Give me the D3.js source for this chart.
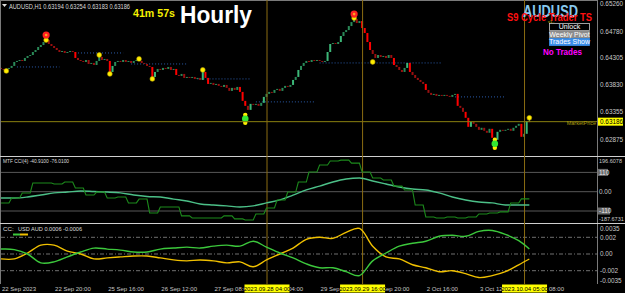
<!DOCTYPE html>
<html>
<head>
<meta charset="utf-8">
<script src="https://cdn.jsdelivr.net/npm/d3@7"></script>
<style>
  body { margin: 0; background: #000; }
  svg { display: block; font-family: "Liberation Sans", Arial, sans-serif; }
</style>
</head>
<body>
<div id="chart"></div>
<script>
var width = 625;
var height = 293;

// hourly closes, AUDUSD H1, 22 Sep 00:00 -> 4 Oct 07:00 (200 bars)
var closes = [
  0.64116,0.64098,0.64116,0.64134,0.64169,0.64239,0.64257,0.64274,0.64257,0.64310,
  0.64345,0.64362,0.64415,0.64450,0.64503,0.64538,0.64591,0.64626,0.64556,0.64521,
  0.64486,0.64450,0.64415,0.64433,0.64398,0.64415,0.64433,0.64415,0.64310,0.64274,
  0.64257,0.64239,0.64274,0.64204,0.64222,0.64186,0.64257,0.64327,0.64274,0.64292,
  0.64257,0.64063,0.64169,0.64239,0.64257,0.64239,0.64274,0.64239,0.64257,0.64222,
  0.64257,0.64274,0.64257,0.64222,0.64204,0.64169,0.64151,0.63975,0.64063,0.64116,
  0.64098,0.64134,0.64116,0.64151,0.64098,0.64116,0.64010,0.63993,0.64028,0.63958,
  0.63975,0.63958,0.63975,0.63940,0.63958,0.63922,0.64063,0.63958,0.63852,0.63870,
  0.63834,0.63852,0.63817,0.63799,0.63834,0.63782,0.63729,0.63782,0.63746,0.63799,
  0.63711,0.63553,0.63465,0.63394,0.63500,0.63482,0.63500,0.63465,0.63518,0.63623,
  0.63676,0.63711,0.63694,0.63746,0.63764,0.63729,0.63782,0.63817,0.63799,0.63834,
  0.63922,0.63975,0.64098,0.64169,0.64222,0.64257,0.64239,0.64274,0.64257,0.64274,
  0.64257,0.64239,0.64257,0.64415,0.64556,0.64574,0.64556,0.64591,0.64697,0.64767,
  0.64802,0.64873,0.64943,0.64996,0.64926,0.64961,0.64838,0.64750,0.64591,0.64450,
  0.64380,0.64310,0.64362,0.64327,0.64345,0.64310,0.64362,0.64310,0.64186,0.64151,
  0.64098,0.64063,0.64134,0.64222,0.64063,0.64010,0.63958,0.63922,0.63887,0.63852,
  0.63746,0.63694,0.63658,0.63676,0.63641,0.63658,0.63641,0.63658,0.63641,0.63623,
  0.63658,0.63676,0.63465,0.63430,0.63359,0.63254,0.63095,0.63183,0.63148,0.63095,
  0.63042,0.63078,0.63025,0.62990,0.63060,0.62902,0.62866,0.63007,0.63042,0.63025,
  0.63042,0.63060,0.63025,0.63078,0.63113,0.63148,0.62919,0.62972,0.63194,0.63186
];
var firstOpen = 0.64134;
var lastOHLC = [0.63194, 0.63254, 0.63183, 0.63186];
var marketPrice = 0.63186;

var priceTicks = ["0.65260", "0.64780", "0.64305", "0.63830", "0.63355", "0.62875"];

var timeTickBars = [0, 20, 40, 60, 80, 100, 120, 140, 160, 180, 200];
var timeTickLabels = ["22 Sep 2023", "22 Sep 20:00", "25 Sep 16:00", "26 Sep 12:00", "27 Sep 08:00",
  "28 Sep 04:00", "29 Sep 00:00", "29 Sep 20:00", "2 Oct 16:00", "3 Oct 12:00", "4 Oct 08:00"];

var vlineBars = [100, 136, 197];
var vlineLabels = ["2023.09.28 04:00", "2023.09.29 16:00", "2023.10.04 05:00"];

// dotted pivot segments: [fromBar, toBar, price]
var levelSegments = [
  [6, 22, 0.64151], [29, 46, 0.64398], [49, 70, 0.64204], [74, 94, 0.63940],
  [96, 118, 0.63535], [120, 166, 0.64222], [171, 190, 0.63623]
];
// yellow swing dots: [bar, price]
var dotSignals = [
  [2, 0.64081], [17, 0.64626], [37, 0.64362], [41, 0.64028], [52, 0.64292],
  [57, 0.63940], [76, 0.64098], [133, 0.65014], [140, 0.64239], [199, 0.63254]
];
var sellSignals = [[17, 0.64714], [133, 0.65084]];
var buySignals = [[92, 0.63236], [186, 0.62796]];

// MTF CCI: one value per H4 block (4 bars)
var cciH4 = [-64, -36, -7, 50, 50, 44, 55, 21, -19, -2,
  -36, -30, -64, -42, -121, -87, -87, -138, -150, -150,
  -150, -138, -155, -161, -127, -93, -47, -2, 55, 112,
  152, 175, 180, 163, 112, 78, 67, 32, 10, -76,
  -144, -150, -144, -150, -144, -127, -121, -115, -64, -40.91];
// slow CCI + currency strength, sampled every 5 bars (last = bar 199)
var cciSlow = [-36, -36, -30, -19, -7, -2, 4, 1, -2, -7,
  -19, -27, -30, -42, -53, -70, -76, -81, -87, -81,
  -64, -47, -19, 10, 32, 55, 72, 78, 61, 44,
  27, 15, 10, -7, -30, -47, -59, -64, -76, -76, -76.01];
var ccUSD = [0.00059, 0.00053, 0, -0.00106, -0.00094, -0.00035, 0.00024, 0.00071, 0.00059, 0.00047,
  0.00024, 0.00024, 0.00059, 0.00071, 0.00082, 0.00071, 0.00094, 0.00106, 0.00094, 0.00153,
  0.00082, 0.00012, -0.00047, -0.00118, -0.00165, -0.00165, -0.00212, -0.00259, -0.00082, 0.00012,
  0.00094, 0.00129, 0.00153, 0.00212, 0.00224, 0.00212, 0.00271, 0.00282, 0.00235, 0.0016, 0.0006];
var ccAUD = [-0.00059, -0.00059, 0.00012, 0.00106, 0.00106, 0.00035, 0, -0.00059, -0.00047, -0.00035,
  -0.00024, -0.00024, -0.00047, -0.00071, -0.00082, -0.00071, -0.00082, -0.00106, -0.00094, -0.00153,
  -0.00071, 0, 0.00071, 0.00176, 0.002, 0.00188, 0.00259, 0.00306, 0.00094, -0.00035,
  -0.00059, -0.00129, -0.00165, -0.00212, -0.002, -0.00235, -0.00282, -0.00259, -0.00212, -0.00129, -0.0006];

var cciTicks = ["196.6078", "110", "0.00", "-110", "-187.6731"];
var ccTicks = ["0.0035", "0.002", "0.00", "-0.002", "-0.0035"];

function drawChart() {
  var plotRight = 597;
  var sampleBars = d3.range(0, 200, 5).concat([199]);

  var svg = d3.select("#chart").append("svg").attr("width", width).attr("height", height);
  svg.append("rect").attr("width", width).attr("height", height).attr("fill", "#000");

  var defs = svg.append("defs");
  defs.append("clipPath").attr("id", "clip-main").append("rect")
    .attr("x", 1).attr("y", 1).attr("width", plotRight - 1).attr("height", 155);

  var x = d3.scaleLinear().domain([0, 199]).range([1, 1 + 199 * 2.655]);
  var y = d3.scaleLinear().domain([0.62875, 0.65260]).range([139.3, 4.1]);
  var yCci = d3.scaleLinear().domain([-110, 110]).range([211, 172.4]);
  var yCc = d3.scaleLinear().domain([-0.002, 0.002]).range([270.7, 237.3]);

  // frame
  svg.append("line").attr("x1", 0).attr("x2", plotRight).attr("y1", 0.5).attr("y2", 0.5).attr("stroke", "#7a7a7a");
  svg.append("line").attr("x1", 0.5).attr("x2", 0.5).attr("y1", 0).attr("y2", 284).attr("stroke", "#7a7a7a");
  svg.append("line").attr("x1", plotRight + 0.5).attr("x2", plotRight + 0.5).attr("y1", 0).attr("y2", 284).attr("stroke", "#7a7a7a");
  [156.5, 223.5].forEach(function (yy) {
    svg.append("line").attr("x1", 0).attr("x2", width).attr("y1", yy).attr("y2", yy)
      .attr("stroke", "#cfcfcf").attr("stroke-width", 1.2);
  });

  // CCI grid
  [110, 0, -110].forEach(function (v) {
    svg.append("line").attr("x1", 1).attr("x2", plotRight).attr("y1", yCci(v)).attr("y2", yCci(v))
      .attr("stroke", "#585858");
  });
  // CC grid
  [0.002, 0, -0.002].forEach(function (v) {
    svg.append("line").attr("x1", 1).attr("x2", plotRight).attr("y1", yCc(v)).attr("y2", yCc(v))
      .attr("stroke", "#707070").attr("stroke-dasharray", "4,2,1,2");
  });

  // pivot level segments
  var main = svg.append("g").attr("clip-path", "url(#clip-main)");
  main.selectAll("line.level").data(levelSegments).enter().append("line")
    .attr("class", "level")
    .attr("x1", function (d) { return x(d[0]); }).attr("x2", function (d) { return x(d[1]); })
    .attr("y1", function (d) { return y(d[2]); }).attr("y2", function (d) { return y(d[2]); })
    .attr("stroke", "#2a5aa8").attr("stroke-dasharray", "1,2");

  // market price line
  svg.append("line").attr("x1", 1).attr("x2", plotRight).attr("y1", y(marketPrice)).attr("y2", y(marketPrice))
    .attr("stroke", "#8a8010");

  // vertical time markers
  svg.selectAll("line.vmark").data(vlineBars).enter().append("line")
    .attr("class", "vmark")
    .attr("x1", function (d) { return x(d) + 0.5; }).attr("x2", function (d) { return x(d) + 0.5; })
    .attr("y1", 0).attr("y2", 284)
    .attr("stroke", "#8b6d12");

  // candles
  var bars = closes.map(function (c, i) {
    var o = i == 0 ? firstOpen : closes[i - 1];
    if (i == closes.length - 1) { o = lastOHLC[0]; }
    return { i: i, o: o, c: c };
  });
  main.append("line")
    .attr("x1", x(199)).attr("x2", x(199))
    .attr("y1", y(lastOHLC[1])).attr("y2", y(lastOHLC[2]))
    .attr("stroke", "#3cb878");
  main.selectAll("rect.candle").data(bars).enter().append("rect")
    .attr("class", "candle")
    .attr("x", function (d) { return x(d.i) - 1; })
    .attr("width", 2)
    .attr("y", function (d) { return y(Math.max(d.o, d.c)); })
    .attr("height", function (d) { return Math.max(1, Math.abs(y(d.o) - y(d.c))); })
    .attr("fill", function (d) {
      var big = Math.abs(d.o - d.c) >= 0.0008;
      if (d.c >= d.o) { return big ? "#3cb878" : "#2a8a58"; }
      return big ? "#ff0000" : "#9a1010";
    });

  // swing dots and signals
  main.selectAll("circle.dot").data(dotSignals).enter().append("circle")
    .attr("class", "dot")
    .attr("cx", function (d) { return x(d[0]); }).attr("cy", function (d) { return y(d[1]); })
    .attr("r", 2.4).attr("fill", "#ffee00").attr("stroke", "#b8a000").attr("stroke-width", 0.6);
  main.selectAll("circle.sell").data(sellSignals).enter().append("circle")
    .attr("class", "sell")
    .attr("cx", function (d) { return x(d[0]); }).attr("cy", function (d) { return y(d[1]); })
    .attr("r", 3.6).attr("fill", "#ff2020");
  main.selectAll("circle.sellc").data(sellSignals).enter().append("circle")
    .attr("class", "sellc")
    .attr("cx", function (d) { return x(d[0]); }).attr("cy", function (d) { return y(d[1]); })
    .attr("r", 1.3).attr("fill", "#ffa020");
  buySignals.forEach(function (d) {
    [-4, 4].forEach(function (off) {
      main.append("circle").attr("cx", x(d[0])).attr("cy", y(d[1]) + off).attr("r", 2.2).attr("fill", "#ffee00");
    });
    main.append("circle").attr("cx", x(d[0])).attr("cy", y(d[1])).attr("r", 3.3).attr("fill", "#33e633");
  });

  // CCI lines
  var cciFast = closes.map(function (c, i) { return [i, cciH4[Math.floor(i / 4)]]; });
  svg.append("path").datum(cciSlow.map(function (v, k) { return [sampleBars[k], v]; }))
    .attr("fill", "none").attr("stroke", "#4cc088").attr("stroke-width", 1.4)
    .attr("d", d3.line().x(function (d) { return x(d[0]); }).y(function (d) { return yCci(d[1]); }).curve(d3.curveMonotoneX));
  svg.append("path").datum(cciFast)
    .attr("fill", "none").attr("stroke", "#1c8a1c").attr("stroke-width", 1.1)
    .attr("d", d3.line().x(function (d) { return x(d[0]); }).y(function (d) { return yCci(d[1]); }));

  // currency strength lines
  var ccLine = d3.line().x(function (d) { return x(d[0]); }).y(function (d) { return yCc(d[1]); }).curve(d3.curveCatmullRom);
  svg.append("path").datum(ccAUD.map(function (v, k) { return [sampleBars[k], v]; }))
    .attr("fill", "none").attr("stroke", "#f0c000").attr("stroke-width", 1.4).attr("d", ccLine);
  svg.append("path").datum(ccUSD.map(function (v, k) { return [sampleBars[k], v]; }))
    .attr("fill", "none").attr("stroke", "#3cc83c").attr("stroke-width", 1.4).attr("d", ccLine);

  // right axis labels
  var axisFont = 6.4;
  var priceAxis = svg.append("g").attr("font-size", axisFont + "px").attr("fill", "#c8c8c8");
  priceAxis.selectAll("text").data(priceTicks).enter().append("text")
    .attr("x", 600).attr("y", function (d) { return y(+d); }).attr("dy", "0.35em")
    .text(function (d) { return d; });
  svg.append("rect").attr("x", 598).attr("y", y(marketPrice) - 4).attr("width", 25).attr("height", 8).attr("fill", "#ffff00");
  svg.append("text").attr("x", 600).attr("y", y(marketPrice)).attr("dy", "0.35em")
    .attr("font-size", axisFont + "px").attr("fill", "#000").text(marketPrice.toFixed(5));
  svg.append("text").attr("x", 596).attr("y", y(marketPrice) + 3.5).attr("text-anchor", "end")
    .attr("font-size", "5.5px").attr("fill", "#a89a10").text("MarketPrice");

  var cciPos = [160.7, yCci(110), yCci(0), yCci(-110), 219.3];
  cciTicks.forEach(function (t, k) {
    if (k == 1 || k == 3) {
      svg.append("rect").attr("x", 598).attr("y", cciPos[k] - 3.5).attr("width", k == 1 ? 10 : 12).attr("height", 7).attr("fill", "#6a6a6a");
    }
    svg.append("text").attr("x", 599).attr("y", cciPos[k]).attr("dy", "0.35em")
      .attr("font-size", (t.length > 6 ? 5.5 : axisFont) + "px")
      .attr("fill", k == 1 || k == 3 ? "#e8e8e8" : "#c8c8c8").text(t);
  });
  var ccPos = [229, yCc(0.002), yCc(0), yCc(-0.002), 280.7];
  ccTicks.forEach(function (t, k) {
    svg.append("text").attr("x", 600).attr("y", ccPos[k]).attr("dy", "0.35em")
      .attr("font-size", axisFont + "px").attr("fill", "#c8c8c8").text(t);
  });

  // time axis
  var timeAxis = svg.append("g").attr("font-size", "6px").attr("fill", "#c8c8c8");
  timeAxis.selectAll("text").data(timeTickBars).enter().append("text")
    .attr("x", function (d) { return x(d) + 1; }).attr("y", 291)
    .text(function (d, k) { return timeTickLabels[k]; });
  vlineBars.forEach(function (b, k) {
    svg.append("rect").attr("x", x(b) - 22).attr("y", 284.5).attr("width", 45).attr("height", 8).attr("fill", "#ffff00");
    svg.append("text").attr("x", x(b) + 0.5).attr("y", 291).attr("text-anchor", "middle")
      .attr("font-size", "6px").attr("fill", "#000").text(vlineLabels[k]);
  });

  // panel captions
  svg.append("path").attr("d", "M2,4 L7,4 L4.5,7 Z").attr("fill", "#dcdcdc");
  svg.append("text").attr("x", 9).attr("y", 8.5).attr("font-size", "6.4px").attr("fill", "#dcdcdc")
    .attr("textLength", 121).attr("lengthAdjust", "spacingAndGlyphs")
    .text("AUDUSD,H1  " + lastOHLC.map(function (v) { return v.toFixed(5); }).join(" "));
  svg.append("text").attr("x", 3).attr("y", 163).attr("font-size", "6.2px").attr("fill", "#dcdcdc")
    .attr("textLength", 66).attr("lengthAdjust", "spacingAndGlyphs")
    .text("MTF CCI(4) " + cciH4[cciH4.length - 1].toFixed(4) + " " + cciSlow[cciSlow.length - 1].toFixed(4));
  svg.append("text").attr("x", 3).attr("y", 231).attr("font-size", "6.2px").attr("fill", "#dcdcdc").text("CC:");
  svg.append("text").attr("x", 18).attr("y", 231).attr("font-size", "6.2px").attr("fill", "#dcdcdc")
    .attr("textLength", 64).attr("lengthAdjust", "spacingAndGlyphs")
    .text("USD AUD " + ccUSD[ccUSD.length - 1].toFixed(4) + " " + ccAUD[ccAUD.length - 1].toFixed(4));
  svg.append("line").attr("x1", 13).attr("x2", 20).attr("y1", 234.5).attr("y2", 234.5).attr("stroke", "#3cc83c").attr("stroke-width", 2);
  svg.append("line").attr("x1", 20).attr("x2", 28).attr("y1", 234.5).attr("y2", 234.5).attr("stroke", "#f0c000").attr("stroke-width", 2);

  // overlay labels
  svg.append("text").attr("x", 133).attr("y", 16.5).attr("font-size", "11px").attr("font-weight", "bold")
    .attr("fill", "#f5f000").attr("textLength", 42).attr("lengthAdjust", "spacingAndGlyphs").text("41m 57s");
  svg.append("text").attr("x", 180).attr("y", 23).attr("font-size", "24px").attr("font-weight", "bold")
    .attr("fill", "#ffffff").attr("textLength", 72).attr("lengthAdjust", "spacingAndGlyphs").text("Hourly");
  svg.append("text").attr("x", 523).attr("y", 17).attr("font-size", "16.5px").attr("font-weight", "bold")
    .attr("fill", "#87c8ee").attr("textLength", 55).attr("lengthAdjust", "spacingAndGlyphs").text("AUDUSD");
  svg.append("text").attr("x", 507).attr("y", 20.5).attr("font-size", "10px").attr("font-weight", "bold")
    .attr("fill", "#ff1010").attr("textLength", 85).attr("lengthAdjust", "spacingAndGlyphs").text("S9 Cycle Trader TS");
  svg.append("text").attr("x", 548).attr("y", 23).attr("font-size", "4px").attr("fill", "#d8c000").text("v1..");

  var buttons = [["Unlock", "#000000", "#c8c8c8"], ["Weekly Pivot", "#8c8c8c", "#8c8c8c"], ["Trades Show", "#3a8ee8", "#3a8ee8"]];
  buttons.forEach(function (b, k) {
    var by = 23.5 + k * 7.5;
    svg.append("rect").attr("x", 549.5).attr("y", by).attr("width", 40).attr("height", 7)
      .attr("fill", b[1]).attr("stroke", b[2]).attr("stroke-width", 0.8);
    svg.append("text").attr("x", 569.5).attr("y", by + 5.8).attr("text-anchor", "middle")
      .attr("font-size", "7px").attr("fill", "#ffffff").text(b[0]);
  });
  svg.append("text").attr("x", 543).attr("y", 54.5).attr("font-size", "8.5px").attr("font-weight", "bold")
    .attr("fill", "#ff00ff").attr("textLength", 39).attr("lengthAdjust", "spacingAndGlyphs").text("No Trades");
}

drawChart();
</script>
</body>
</html>
